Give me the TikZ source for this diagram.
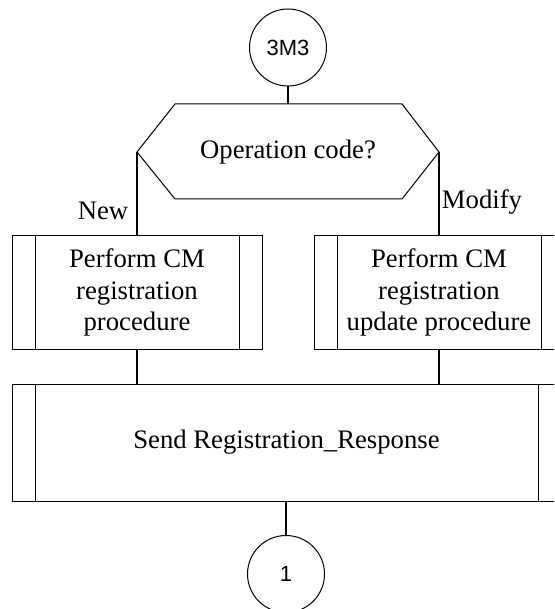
\documentclass[tikz,border=0pt]{standalone}
\usepackage{fontspec}
\setmainfont{Liberation Serif}
\newfontfamily\sansf{Liberation Sans}
\begin{document}
\begin{tikzpicture}[x=1pt,y=-1pt,
  shape line/.style={draw=black,line width=1pt},
  conn/.style={draw=black,line width=1.6pt},
  txt/.style={font=\fontsize{26.7}{31.5}\selectfont,align=center,inner sep=0pt},
  connector circle/.style={shape line,circle,minimum size=77pt,inner sep=0pt,font=\sansf\fontsize{22}{26}\selectfont},
  procbox/.style={shape line,rectangle,inner sep=0pt,minimum width=250pt,minimum height=113pt,
    font=\fontsize{26.7}{31.5}\selectfont,align=center,
    path picture={
      \draw[line width=1pt] ([xshift=23pt]path picture bounding box.north west) -- ([xshift=23pt]path picture bounding box.south west);
      \draw[line width=1pt] ([xshift=-23pt]path picture bounding box.north east) -- ([xshift=-23pt]path picture bounding box.south east);
    }},
  lbl/.style={font=\fontsize{26.7}{31.5}\selectfont,inner sep=0pt}
]
\clip (0,0) rectangle (554,609);
\fill[white] (0,0) rectangle (554,609);

% start connector
\node[connector circle] (c3) at (288,47.5) {3M3};

% decision hexagon
\coordinate (htl) at (175,104);
\coordinate (htr) at (402,104);
\coordinate (hr) at (439,152);
\coordinate (hbr) at (402,199);
\coordinate (hbl) at (175,199);
\coordinate (hl) at (137,152);
\coordinate (htop) at (288,104);
\draw[shape line] (htl) -- (htr) -- (hr) -- (hbr) -- (hbl) -- (hl) -- cycle;
\node[txt] (dec) at (288,152) {Operation code?};

% procedure boxes
\node[procbox] (lbox) at (137,292.5) {Perform CM\\registration\\procedure};
\node[procbox] (rbox) at (439,292.5) {Perform CM\\registration\\update procedure};
\node[procbox,minimum width=549pt,minimum height=117pt] (big) at (286.5,442.5) {Send Registration\_Response};

% end connector
\node[connector circle] (c1) at (286,574) {1};

% labels
\node[lbl] (new) at (103,211) {New};
\node[lbl] (mod) at (482,202) {Modify};

% connectors
\draw[conn] (c3.south) -- (htop);
\draw[conn] (hl) -- (lbox.north);
\draw[conn] (hr) -- (rbox.north);
\draw[conn] (lbox.south) -- (lbox.south |- big.north);
\draw[conn] (rbox.south) -- (rbox.south |- big.north);
\draw[conn] (big.south -| c1.north) -- (c1.north);
\end{tikzpicture}
\end{document}
